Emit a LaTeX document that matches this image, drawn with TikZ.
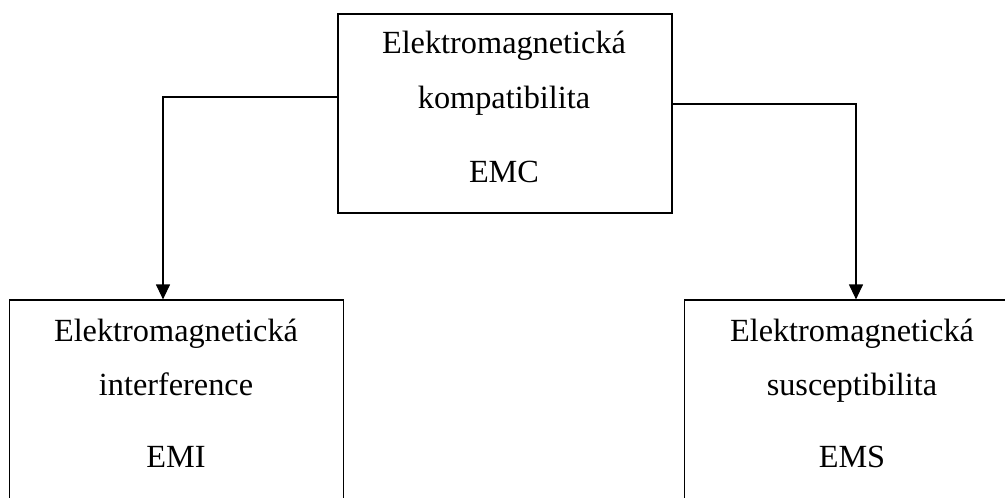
\documentclass[tikz,border=0pt]{standalone}
\usepackage{fontspec}
\setmainfont{Liberation Serif}
\usetikzlibrary{arrows.meta}
\begin{document}
\begin{tikzpicture}[x=1pt,y=-1pt,
  boxst/.style={draw=black,line width=1.2pt,minimum width=334pt,minimum height=199pt,inner sep=0pt},
  txt/.style={anchor=base,inner sep=0pt,font=\fontsize{32.3}{37}\selectfont},
  arr/.style={draw=black,line width=1.2pt,-{Triangle[width=14pt,length=15pt]}}]
\useasboundingbox (0,0) rectangle (1005,498);
\clip (0,0) rectangle (1005,498);
\node[boxst] (top) at (505,113.5) {};
\node[boxst] (left) at (176.5,399.5) {};
\node[boxst] (right) at (851.5,399.5) {};
\node[txt] (t1) at (504,53) {Elektromagnetická};
\node[txt] (t2) at (504,108) {kompatibilita};
\node[txt] (t3) at (504,182) {EMC};
\node[txt] (l1) at (176,341) {Elektromagnetická};
\node[txt] (l2) at (176,395) {interference};
\node[txt] (l3) at (176,467) {EMI};
\node[txt] (r1) at (852,341) {Elektromagnetická};
\node[txt] (r2) at (852,395) {susceptibilita};
\node[txt] (r3) at (852,467) {EMS};
\draw[arr] ([yshift=16.5pt]top.west) -| ([xshift=-13.5pt]left.north);
\draw[arr] ([yshift=9.5pt]top.east) -| ([xshift=4.5pt]right.north);
\end{tikzpicture}
\end{document}
